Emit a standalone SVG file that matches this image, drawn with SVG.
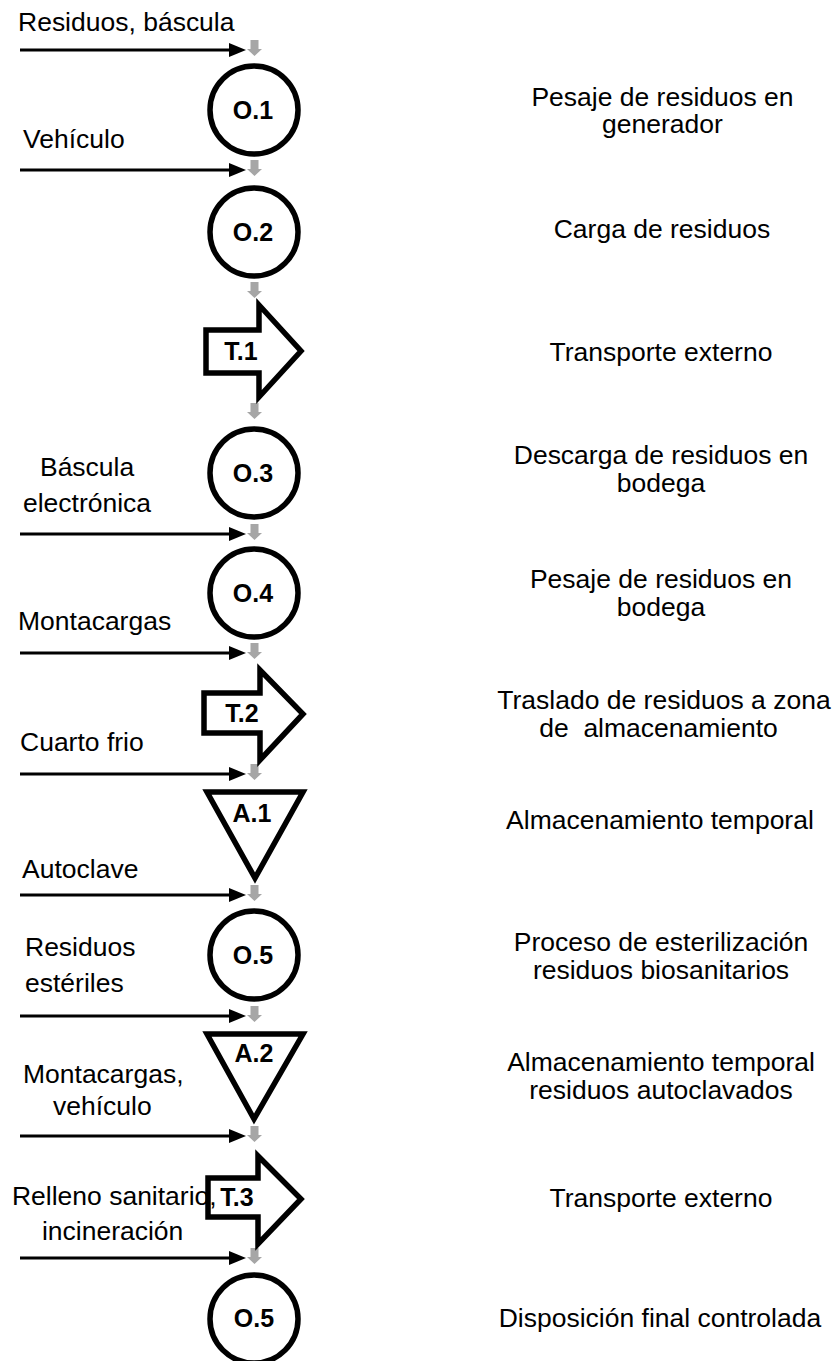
<svg xmlns="http://www.w3.org/2000/svg" xmlns:xlink="http://www.w3.org/1999/xlink" width="835" height="1361" viewBox="0 0 835 1361">
<style>
  .shape { fill: #ffffff; stroke: #000000; stroke-width: 5.5; stroke-linejoin: miter; }
  .lbl { font-family: "Liberation Sans", Arial, sans-serif; font-size: 25px; font-weight: bold; fill: #000000; text-anchor: middle; }
  .txt { font-family: "Liberation Sans", Arial, sans-serif; font-size: 25px; fill: #000000; white-space: pre; }
  .desc { text-anchor: middle; }
  .line { stroke: #000000; stroke-width: 3.2; }
</style>
<defs>
  <path id="ga" d="M-4,-10 H4 V-1 H7.5 L0,6 L-7.5,-1 H-4 Z" fill="#a6a6a6"/>
  <g id="ba">
    <line class="line" x1="20" y1="0" x2="232" y2="0"/>
    <polygon points="229,-7 246,0 229,7" fill="#000000"/>
  </g>
</defs>
<rect width="835" height="1361" fill="#ffffff"/>

<g id="connectors">
  <use xlink:href="#ba" transform="translate(0,50)"/>
  <use xlink:href="#ba" transform="translate(0,170)"/>
  <use xlink:href="#ba" transform="translate(0,534)"/>
  <use xlink:href="#ba" transform="translate(0,653)"/>
  <use xlink:href="#ba" transform="translate(0,774)"/>
  <use xlink:href="#ba" transform="translate(0,895)"/>
  <use xlink:href="#ba" transform="translate(0,1016)"/>
  <use xlink:href="#ba" transform="translate(0,1136)"/>
  <use xlink:href="#ba" transform="translate(0,1258)"/>
  <use xlink:href="#ga" transform="translate(254.5,50)"/>
  <use xlink:href="#ga" transform="translate(254.5,170)"/>
  <use xlink:href="#ga" transform="translate(254.5,292)"/>
  <use xlink:href="#ga" transform="translate(254.5,413)"/>
  <use xlink:href="#ga" transform="translate(254.5,534)"/>
  <use xlink:href="#ga" transform="translate(254.5,653)"/>
  <use xlink:href="#ga" transform="translate(254.5,774)"/>
  <use xlink:href="#ga" transform="translate(254.5,895)"/>
  <use xlink:href="#ga" transform="translate(254.5,1016)"/>
  <use xlink:href="#ga" transform="translate(254.5,1136)"/>
  <use xlink:href="#ga" transform="translate(254.5,1258)"/>
</g>

<g id="node-O1">
  <circle class="shape" cx="254" cy="110" r="44"/>
  <text class="lbl" x="253" y="119">O.1</text>
</g>
<g id="node-O2">
  <circle class="shape" cx="254" cy="232" r="44"/>
  <text class="lbl" x="253" y="241">O.2</text>
</g>
<g id="node-T1">
  <polygon class="shape" points="206,330 259,330 259,305 301,351 259,397 259,373 206,373"/>
  <text class="lbl" x="241" y="360">T.1</text>
</g>
<g id="node-O3">
  <circle class="shape" cx="254" cy="473" r="44"/>
  <text class="lbl" x="253" y="482">O.3</text>
</g>
<g id="node-O4">
  <circle class="shape" cx="254" cy="593" r="44"/>
  <text class="lbl" x="253" y="602">O.4</text>
</g>
<g id="node-T2">
  <polygon class="shape" points="204,693 260,693 260,670 303,714 260,760 260,733 204,733"/>
  <text class="lbl" x="242" y="722">T.2</text>
</g>
<g id="node-A1">
  <polygon class="shape" points="207,792 303,792 255,878"/>
  <text class="lbl" x="252" y="822">A.1</text>
</g>
<g id="node-O5">
  <circle class="shape" cx="254" cy="955" r="44"/>
  <text class="lbl" x="253" y="964">O.5</text>
</g>
<g id="node-A2">
  <polygon class="shape" points="207,1034 303,1034 254,1119"/>
  <text class="lbl" x="254" y="1062">A.2</text>
</g>
<g id="node-T3">
  <polygon class="shape" points="208,1178 258,1178 258,1156 301,1199 258,1244 258,1217 208,1217"/>
  <text class="lbl" x="237" y="1206">T.3</text>
</g>
<g id="node-O5b">
  <circle class="shape" cx="254" cy="1319" r="44"/>
  <text class="lbl" x="254" y="1327">O.5</text>
</g>

<g id="input-labels" transform="scale(1.06,1)">
  <text class="txt" x="17" y="31">Residuos, báscula</text>
  <text class="txt" x="21.7" y="148">Vehículo</text>
  <text class="txt" x="37.7" y="476">Báscula</text>
  <text class="txt" x="21.7" y="512">electrónica</text>
  <text class="txt" x="17" y="630">Montacargas</text>
  <text class="txt" x="18.9" y="751">Cuarto frio</text>
  <text class="txt" x="20.8" y="878">Autoclave</text>
  <text class="txt" x="23.6" y="956">Residuos</text>
  <text class="txt" x="23.6" y="992">estériles</text>
  <text class="txt" x="21.7" y="1083">Montacargas,</text>
  <text class="txt" x="50" y="1115">vehículo</text>
  <text class="txt" x="11.3" y="1205">Relleno sanitario,</text>
  <text class="txt" x="39.6" y="1240">incineración</text>
</g>

<g id="descriptions" transform="scale(1.06,1)">
  <text class="txt desc" x="625" y="106">Pesaje de residuos en</text>
  <text class="txt desc" x="625" y="133">generador</text>
  <text class="txt desc" x="624.5" y="238">Carga de residuos</text>
  <text class="txt desc" x="623.6" y="361">Transporte externo</text>
  <text class="txt desc" x="623.6" y="464">Descarga de residuos en</text>
  <text class="txt desc" x="623.6" y="492">bodega</text>
  <text class="txt desc" x="623.6" y="588">Pesaje de residuos en</text>
  <text class="txt desc" x="623.6" y="616">bodega</text>
  <text class="txt desc" x="626.4" y="709">Traslado de residuos a zona</text>
  <text class="txt desc" x="621.2" y="737">de  almacenamiento</text>
  <text class="txt desc" x="622.6" y="829">Almacenamiento temporal</text>
  <text class="txt desc" x="623.6" y="951">Proceso de esterilización</text>
  <text class="txt desc" x="623.6" y="979">residuos biosanitarios</text>
  <text class="txt desc" x="623.6" y="1071">Almacenamiento temporal</text>
  <text class="txt desc" x="623.6" y="1099">residuos autoclavados</text>
  <text class="txt desc" x="623.6" y="1207">Transporte externo</text>
  <text class="txt desc" x="622.6" y="1327">Disposición final controlada</text>
</g>
</svg>
